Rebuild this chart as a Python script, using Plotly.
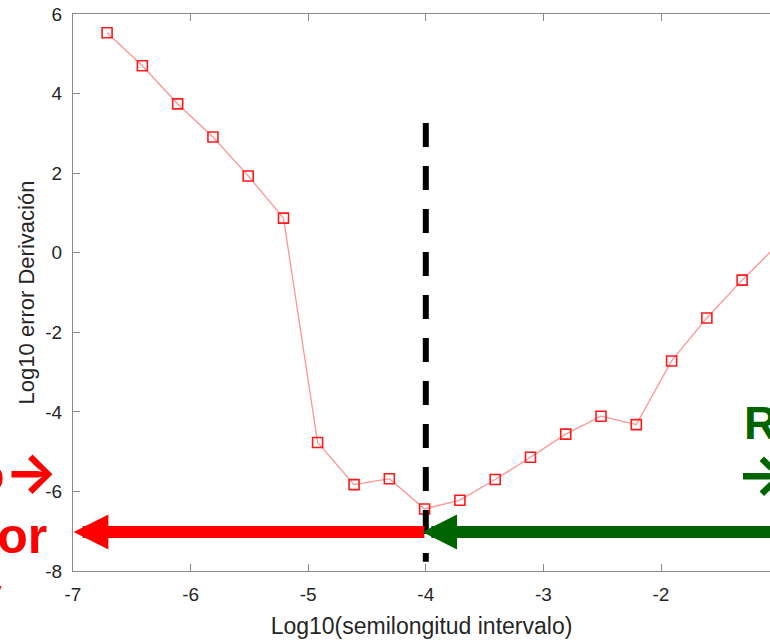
import plotly.graph_objects as go

# data
log_h = [-6.71, -6.41, -6.11, -5.81, -5.51, -5.21, -4.92, -4.61, -4.31, -4.01,
         -3.71, -3.41, -3.11, -2.81, -2.51, -2.21, -1.91, -1.61, -1.31, -1.01]
log_err = [5.53, 4.70, 3.74, 2.91, 1.93, 0.87, -4.77, -5.83, -5.68, -6.44,
           -6.22, -5.70, -5.14, -4.56, -4.11, -4.32, -2.72, -1.64, -0.69, 0.20]

x_ticks = [-7, -6, -5, -4, -3, -2, -1]
y_ticks = [-8, -6, -4, -2, 0, 2, 4, 6]

split_x = -4.0            # optimum (dashed line)
split_y_top = 3.26
split_y_bottom = -7.77
arrow_y = -7.02
red_arrow_tip = -6.995
green_arrow_tail = -0.3
green_arrow_tip = -4.03

ARROW = "<span style=\"font-family:'Inter';font-size:56px\">→</span>"
red_lines = ["Redondeo" + ARROW, "Error", "muy"]
green_lines = ["Región", ARROW + "Truncamiento"]

W, H = 770, 640
ML, MR, MT, MB = 73, 0, 14, 69
px_per_x = 117.6
x_max = -7 + (W - ML - MR) / px_per_x

fig = go.Figure()
fig.add_trace(go.Scatter(
    x=log_h, y=log_err, mode="lines+markers",
    line=dict(color="rgba(255,60,60,0.55)", width=1.3),
    marker=dict(symbol="square-open", size=10, color="#ff1a1a",
                line=dict(width=1.6, color="#ff1a1a")),
    showlegend=False, cliponaxis=True,
))

# dashed vertical line
fig.add_shape(type="line", xref="x", yref="y",
              x0=split_x, x1=split_x, y0=split_y_top, y1=split_y_bottom,
              line=dict(color="black", width=6, dash="24px,19px"))

arrow_common = dict(xref="x", yref="y", axref="x", ayref="y", showarrow=True,
                    arrowhead=2, arrowwidth=12, arrowsize=0.58, text="")
fig.add_annotation(x=red_arrow_tip, y=arrow_y, ax=split_x, ay=arrow_y,
                   arrowcolor="#ff0000", **arrow_common)
fig.add_annotation(x=green_arrow_tip, y=arrow_y, ax=green_arrow_tail, ay=arrow_y,
                   arrowcolor="#006400", **arrow_common)

big_family = "Liberation Sans, Arial"
red_pos = [(-0.018, 0.1773), (-0.0347, 0.0621), (-0.0987, -0.0456)]
for t, (xp, yp) in zip(red_lines, red_pos):
    fig.add_annotation(text=t, xref="paper", yref="paper", x=xp, y=yp,
                       xanchor="right", yanchor="middle", showarrow=False,
                       font=dict(family=big_family, size=50,
                                 color="#ff0000", weight="bold"))
green_pos = [(0.9598, 0.2654), (0.9484, 0.1738)]
for t, (xp, yp) in zip(green_lines, green_pos):
    fig.add_annotation(text=t, xref="paper", yref="paper", x=xp, y=yp,
                       xanchor="left", yanchor="middle", showarrow=False,
                       font=dict(family=big_family, size=46,
                                 color="#006400", weight="bold"))

axis_font = dict(family="Liberation Sans, Arial", size=19, color="#262626")
fig.update_layout(
    width=W, height=H,
    margin=dict(l=ML, r=MR, t=MT, b=MB, pad=0),
    paper_bgcolor="white", plot_bgcolor="white",
    xaxis=dict(range=[-7, x_max], tickvals=x_ticks,
               ticktext=[str(v) for v in x_ticks], ticks="inside", ticklen=7,
               tickcolor="#8a8a8a", showline=True, linecolor="#8a8a8a",
               linewidth=1, mirror="ticks", showgrid=False, zeroline=False,
               tickfont=axis_font, ticklabelstandoff=6,
               title=dict(text="Log10(semilongitud intervalo)",
                          font=dict(family="Liberation Sans, Arial", size=23,
                                    color="#262626"), standoff=14)),
    yaxis=dict(range=[-8, 6], tickvals=y_ticks,
               ticktext=[str(v) for v in y_ticks], ticks="inside", ticklen=7,
               tickcolor="#8a8a8a", showline=True, linecolor="#8a8a8a",
               linewidth=1, mirror=False, showgrid=False, zeroline=False,
               tickfont=axis_font, ticklabelstandoff=6,
               title=dict(text="Log10 error Derivación",
                          font=dict(family="Liberation Sans, Arial", size=22,
                                    color="#262626"), standoff=4)),
)

fig.write_html("out.html")
